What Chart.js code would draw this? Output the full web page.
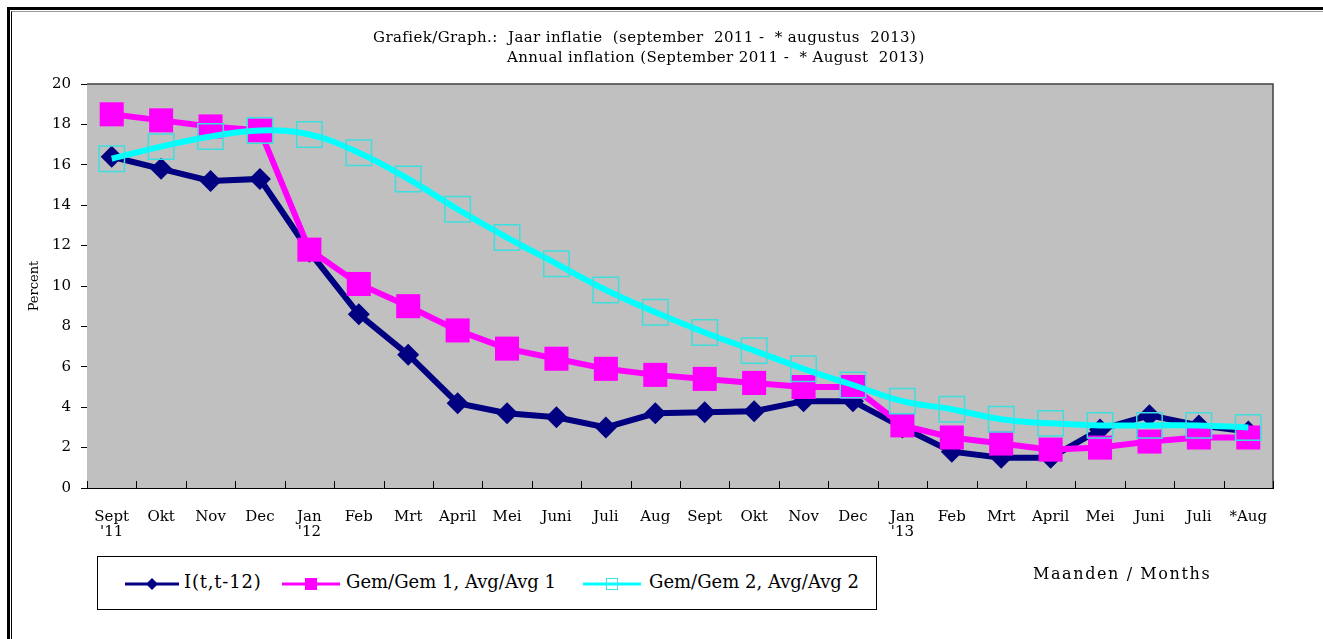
<!DOCTYPE html>
<html lang="nl">
  <head>
    <meta charset="UTF-8" />
    <title>Jaar inflatie</title>
    <script src="https://cdn.jsdelivr.net/npm/chart.js"></script>
    <style>
      * {
        margin: 0;
        padding: 0;
        box-sizing: border-box;
      }

      body {
        background: white;
        width: 1323px;
        height: 639px;
        overflow: hidden;
        position: relative;
        font-family: "DejaVu Serif", serif;
        color: #000;
      }

      /* outer frame of the picture */
      .frame {
        position: absolute;
        left: 7px;
        top: 7px;
        width: 1330px;
        height: 700px;
        border-top: 3px solid #000;
        border-left: 3px solid #000;
      }
      .frame2 {
        position: absolute;
        left: 11px;
        top: 11px;
        width: 1330px;
        height: 700px;
        border-top: 1px solid #999;
        border-left: 1px solid #000;
      }

      #chartBox {
        position: absolute;
        left: 0;
        top: 0;
        width: 1323px;
        height: 639px;
      }

      .title {
        position: absolute;
        font-size: 15px;
        letter-spacing: 0.4px;
        white-space: pre;
        line-height: 18px;
      }

      .legend {
        position: absolute;
        left: 97px;
        top: 556px;
        width: 780px;
        height: 54px;
        border: 1px solid #000;
        background: white;
      }
      .legend svg {
        position: absolute;
        top: 17px;
      }
      .legend span {
        position: absolute;
        top: 14px;
        font-size: 18px;
        white-space: pre;
      }

      .months {
        position: absolute;
        left: 1033px;
        top: 564px;
        font-size: 16px;
        letter-spacing: 1.6px;
        white-space: pre;
      }
    </style>
  </head>
  <body>
    <div class="frame"></div>
    <div class="frame2"></div>
    <div id="chartBox"><canvas id="inflChart"></canvas></div>

    <div class="title" style="left: 373px; top: 28px">Grafiek/Graph.:  Jaar inflatie  (september  2011 -  * augustus  2013)</div>
    <div class="title" style="left: 507px; top: 48px">Annual inflation (September 2011 -  * August  2013)</div>

    <div class="legend">
      <svg width="54" height="20" style="left: 27px">
        <line x1="0" y1="10" x2="54" y2="10" stroke="#000080" stroke-width="3" />
        <polygon points="27,4 33,10 27,16 21,10" fill="#000080" />
      </svg>
      <span style="left: 86px; letter-spacing: 0.8px">I(t,t-12)</span>
      <svg width="58" height="20" style="left: 184px">
        <line x1="0" y1="10" x2="58" y2="10" stroke="#ff00ff" stroke-width="3" />
        <rect x="23" y="4" width="12" height="12" fill="#ff00ff" />
      </svg>
      <span style="left: 248px">Gem/Gem 1, Avg/Avg 1</span>
      <svg width="58" height="20" style="left: 485px">
        <line x1="0" y1="10" x2="58" y2="10" stroke="#00ffff" stroke-width="3" />
        <rect x="23.5" y="4.5" width="11" height="11" fill="none" stroke="#3fdede" stroke-width="1" />
      </svg>
      <span style="left: 551px">Gem/Gem 2, Avg/Avg 2</span>
    </div>

    <div class="months">Maanden / Months</div>

    <script>
      // months, Sept 2011 .. Aug 2013
      const months = [
        ["Sept", "'11"], "Okt", "Nov", "Dec",
        ["Jan", "'12"], "Feb", "Mrt", "April", "Mei", "Juni", "Juli", "Aug",
        "Sept", "Okt", "Nov", "Dec",
        ["Jan", "'13"], "Feb", "Mrt", "April", "Mei", "Juni", "Juli", "*Aug",
      ];

      // I(t,t-12)
      const inflation = [
        16.4, 15.8, 15.2, 15.3, 11.7, 8.6, 6.6, 4.2, 3.7, 3.5, 3.0, 3.7,
        3.75, 3.8, 4.3, 4.3, 3.0, 1.8, 1.5, 1.5, 2.9, 3.6, 3.1, 2.8,
      ];

      // Gem/Gem 1, Avg/Avg 1
      const avg1 = [
        18.5, 18.2, 17.9, 17.7, 11.8, 10.1, 9.0, 7.8, 6.9, 6.4, 5.9, 5.6,
        5.4, 5.2, 5.0, 5.0, 3.1, 2.5, 2.2, 1.9, 2.0, 2.3, 2.5, 2.5,
      ];

      // Gem/Gem 2, Avg/Avg 2
      const avg2 = [
        16.3, 16.9, 17.4, 17.7, 17.5, 16.6, 15.3, 13.8, 12.4, 11.1, 9.8, 8.7,
        7.7, 6.8, 5.9, 5.1, 4.3, 3.9, 3.4, 3.2, 3.1, 3.1, 3.1, 3.0,
      ];

      const yTicks = [0, 2, 4, 6, 8, 10, 12, 14, 16, 18, 20];

      // grey plot area, its frame and the little inward ticks on the x axis
      const plotArea = {
        id: "plotArea",
        beforeDatasetsDraw(chart) {
          const { ctx, chartArea: a } = chart;
          ctx.save();
          ctx.fillStyle = "#c0c0c0";
          ctx.fillRect(a.left, a.top, a.right - a.left, a.bottom - a.top);
          ctx.strokeStyle = "#404040";
          ctx.lineWidth = 1.5;
          ctx.beginPath();
          ctx.moveTo(a.left, a.top);
          ctx.lineTo(a.right, a.top);
          ctx.lineTo(a.right, a.bottom);
          ctx.stroke();

          ctx.strokeStyle = "#000";
          ctx.lineWidth = 1;
          const n = months.length;
          const step = (a.right - a.left) / n;
          ctx.beginPath();
          for (let i = 0; i <= n; i++) {
            const x = Math.round(a.left + i * step) + 0.5;
            ctx.moveTo(x, a.bottom);
            ctx.lineTo(x, a.bottom - 7);
          }
          ctx.stroke();
          ctx.restore();
        },
      };

      const ctx = document.getElementById("inflChart").getContext("2d");

      new Chart(ctx, {
        type: "line",
        data: {
          labels: months,
          datasets: [
            {
              label: "I(t,t-12)",
              data: inflation,
              borderColor: "#000080",
              backgroundColor: "#000080",
              borderWidth: 6,
              pointStyle: "rectRot",
              pointRadius: 11,
              pointBorderWidth: 0,
              tension: 0,
              order: 3,
            },
            {
              label: "Gem/Gem 1, Avg/Avg 1",
              data: avg1,
              borderColor: "#ff00ff",
              backgroundColor: "#ff00ff",
              borderWidth: 6,
              pointStyle: "rect",
              pointRadius: 17,
              pointBorderWidth: 0,
              tension: 0,
              order: 2,
            },
            {
              label: "Gem/Gem 2, Avg/Avg 2",
              data: avg2,
              borderColor: "#00ffff",
              backgroundColor: "rgba(0,0,0,0)",
              borderWidth: 6,
              pointStyle: "rect",
              pointRadius: 18,
              pointBorderColor: "#3fdede",
              pointBorderWidth: 1.5,
              tension: 0.4,
              order: 1,
            },
          ],
        },
        options: {
          responsive: true,
          maintainAspectRatio: false,
          animation: false,
          events: [],
          layout: {
            padding: { left: 0, right: 50, top: 84, bottom: 0 },
          },
          plugins: {
            legend: { display: false },
            tooltip: { enabled: false },
          },
          scales: {
            x: {
              offset: true,
              afterFit: (scale) => {
                scale.height = 151;
              },
              grid: { display: false, drawTicks: false },
              border: { display: true, color: "#000", width: 1 },
              ticks: {
                color: "#000",
                padding: 22,
                maxRotation: 0,
                autoSkip: false,
                font: { family: "DejaVu Serif", size: 15, lineHeight: 1.0 },
              },
            },
            y: {
              min: 0,
              max: 20,
              afterFit: (scale) => {
                scale.width = 87;
              },
              afterBuildTicks: (scale) => {
                scale.ticks = yTicks.map((v) => ({ value: v }));
              },
              grid: {
                drawOnChartArea: false,
                drawTicks: true,
                tickLength: 6,
                color: "#000",
              },
              border: { display: true, color: "#000", width: 1 },
              ticks: {
                color: "#000",
                padding: 10,
                font: { family: "DejaVu Serif", size: 15 },
              },
              title: {
                display: true,
                text: "Percent",
                color: "#000",
                padding: { top: 27, bottom: 0 },
                font: { family: "DejaVu Serif", size: 13 },
              },
            },
          },
        },
        plugins: [plotArea],
      });
    </script>
  </body>
</html>
